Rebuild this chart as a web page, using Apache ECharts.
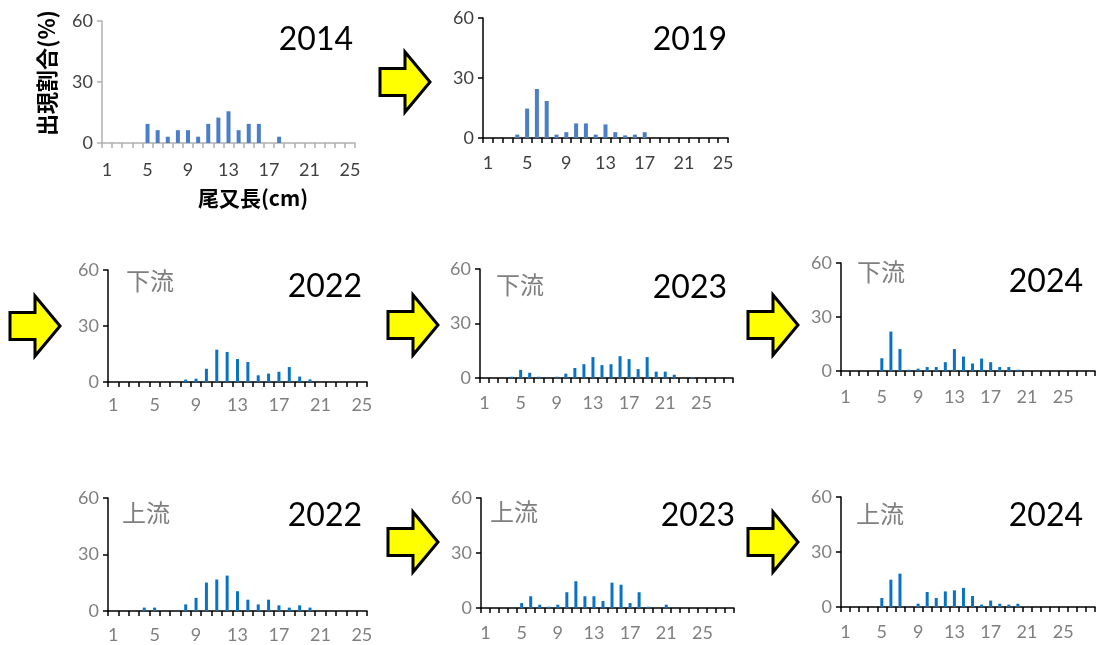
<!DOCTYPE html>
<html>
<head>
<meta charset="utf-8">
<script src="https://cdn.jsdelivr.net/npm/echarts@6/dist/echarts.min.js"></script>
<style>
  html, body { margin: 0; padding: 0; background: #ffffff; }
  #chart { width: 1101px; height: 645px; }
</style>
</head>
<body>
<div id="chart"></div>
<script>
// Fork-length classes (cm)
const lengths25 = Array.from({ length: 25 }, (_, i) => String(i + 1));
const lengths28 = Array.from({ length: 28 }, (_, i) => String(i + 1));

// Share of fish (%) in each length class, one array per survey
const y2014 = [0,0,0,0,9.4,6.3,3.1,6.3,6.3,3.1,9.4,12.5,15.6,6.3,9.4,9.4,0,3.1,0,0,0,0,0,0,0];
const y2019 = [0,0,0,1.7,14.7,24.5,18.5,1.7,2.9,7.3,7.3,1.7,6.8,2.9,1.3,1.7,2.9,0,0,0,0,0,0,0,0];
const down2022 = [0,0,0,0,0,0,0,1.3,1.8,7.1,17.3,16.1,12.3,10.7,3.6,4.5,5.5,8.0,2.9,1.4,0,0,0,0,0];
const down2023 = [0,0,0,0.7,4.5,2.9,0.7,0,0.7,2.4,5.5,7.6,11.5,7.1,7.6,12.0,10.4,4.9,11.5,3.5,3.5,1.8,0,0.5,0,0,0,0];
const down2024 = [0,0,0,0,7.1,21.9,12.2,0.7,1.3,2.2,2.2,4.9,12.2,8.0,4.2,6.9,4.9,2.2,2.2,0.7,0,0,0,0,0,0,0,0];
const up2022 = [0,0,0,1.8,1.8,0,0,3.5,7.0,15.1,16.7,18.8,10.5,6.0,3.5,6.0,3.0,1.8,3.0,1.8,0,0,0,0,0];
const up2023 = [0,0,0,0,2.7,6.4,1.8,0.7,1.8,8.6,14.6,6.4,6.4,3.8,13.8,12.7,2.7,8.6,0.7,0,1.8,0,0,0,0,0,0,0];
const up2024 = [0,0,0,0,4.9,14.9,18.2,0,1.8,8.2,4.9,8.5,9.1,10.4,6.0,1.3,3.5,1.8,1.3,1.8,0,0,0,0,0,0,0,0];

const yTicks = { min: 0, max: 60, interval: 30 };
const yAxisName = '出現割合(%)';
const xAxisName = '尾又長(cm)';
const downLabel = '下流';
const upLabel = '上流';

const LATIN = 'Lato, "Liberation Sans", sans-serif';
const CJK = '"Noto Sans CJK JP", sans-serif';

// Panel layout: grid box, categories, values, look
const panels = [
  { left: 102, top: 21,  width: 253, height: 122, cats: lengths25, data: y2014,    year: '2014', color: '#4a7ec8', barW: 4, axisCol: '#b0b0b0', labCol: '#404040', labGap: 18, region: null },
  { left: 483, top: 18,  width: 245, height: 120, cats: lengths25, data: y2019,    year: '2019', color: '#4a7ec8', barW: 4, axisCol: '#000000', labCol: '#404040', labGap: 16, region: null },
  { left: 108, top: 270, width: 259, height: 112, cats: lengths25, data: down2022, year: '2022', color: '#0a72c4', barW: 3, axisCol: '#000000', labCol: '#7f7f7f', labGap: 14, region: downLabel },
  { left: 480, top: 269, width: 253, height: 109, cats: lengths28, data: down2023, year: '2023', color: '#0a72c4', barW: 3, axisCol: '#000000', labCol: '#7f7f7f', labGap: 16, region: downLabel },
  { left: 841, top: 263, width: 254, height: 108, cats: lengths28, data: down2024, year: '2024', color: '#0a72c4', barW: 3, axisCol: '#000000', labCol: '#7f7f7f', labGap: 17, region: downLabel },
  { left: 108, top: 498, width: 259, height: 113, cats: lengths25, data: up2022,   year: '2022', color: '#0a72c4', barW: 3, axisCol: '#000000', labCol: '#7f7f7f', labGap: 15, region: upLabel },
  { left: 481, top: 498, width: 253, height: 110, cats: lengths28, data: up2023,   year: '2023', color: '#0a72c4', barW: 3, axisCol: '#000000', labCol: '#7f7f7f', labGap: 16, region: upLabel },
  { left: 841, top: 497, width: 254, height: 110, cats: lengths28, data: up2024,   year: '2024', color: '#0a72c4', barW: 3, axisCol: '#000000', labCol: '#7f7f7f', labGap: 16, region: upLabel }
];

// Year text (right edge, vertical centre) and region text (left edge, vertical centre)
const yearPos = [[353, 40], [727, 40], [362, 287], [727, 288], [1083, 282], [362, 516], [735, 516], [1083, 516]];
const regionPos = [null, null, [126, 281], [496, 285], [857, 272], [122, 513], [490, 512], [856, 514]];

// Yellow arrows between surveys: left x, vertical centre
const arrows = [[380, 82], [10, 326], [388, 325], [748, 325], [388, 542], [748, 542]];

function arrowShape(x, cy) {
  const w = 50, h = 60, shaftH = 27, shaftW = 25;
  return [
    [x, cy - shaftH / 2], [x + shaftW, cy - shaftH / 2], [x + shaftW, cy - h / 2],
    [x + w, cy], [x + shaftW, cy + h / 2], [x + shaftW, cy + shaftH / 2], [x, cy + shaftH / 2]
  ];
}

const chart = echarts.init(document.getElementById('chart'), null, { renderer: 'canvas' });

const grids = [], xAxes = [], yAxes = [], series = [], graphics = [];

panels.forEach((p, i) => {
  grids.push({ left: p.left, top: p.top, width: p.width, height: p.height, containLabel: false });
  xAxes.push({
    type: 'category', gridIndex: i, data: p.cats, boundaryGap: true,
    axisLine: { show: true, lineStyle: { color: p.axisCol, width: 1.5 } },
    axisTick: { show: true, interval: 0, alignWithLabel: false, length: 5, lineStyle: { color: p.axisCol, width: 1.5 } },
    axisLabel: { interval: 3, margin: p.labGap, color: p.labCol, fontSize: 18, fontFamily: LATIN },
    splitLine: { show: false }
  });
  yAxes.push({
    type: 'value', gridIndex: i, min: yTicks.min, max: yTicks.max, interval: yTicks.interval,
    axisLine: { show: true, lineStyle: { color: p.axisCol, width: 1.5 } },
    axisTick: { show: true, length: 5, lineStyle: { color: p.axisCol, width: 1.5 } },
    axisLabel: { margin: 9, color: p.labCol, fontSize: 18, fontFamily: LATIN },
    splitLine: { show: false }
  });
  series.push({
    type: 'bar', xAxisIndex: i, yAxisIndex: i, data: p.data,
    barWidth: p.barW, itemStyle: { color: p.color }, silent: true, animation: false
  });

  const yp = yearPos[i];
  graphics.push({
    type: 'text', x: yp[0], y: yp[1],
    style: { text: p.year, fontSize: 32, fontFamily: LATIN, fill: '#000000', align: 'right', verticalAlign: 'middle' }
  });
  if (p.region) {
    const rp = regionPos[i];
    graphics.push({
      type: 'text', x: rp[0], y: rp[1],
      style: { text: p.region, fontSize: 24, fontFamily: CJK, fill: '#7f7f7f', align: 'left', verticalAlign: 'middle' }
    });
  }
});

// Axis titles of the first panel
graphics.push({
  type: 'text', x: 47, y: 73, rotation: Math.PI / 2,
  style: { text: yAxisName, fontSize: 22, fontWeight: 'bold', fontFamily: CJK, fill: '#000000', align: 'center', verticalAlign: 'middle' }
});
graphics.push({
  type: 'text', x: 253, y: 198,
  style: { text: xAxisName, fontSize: 21, fontWeight: 'bold', fontFamily: CJK, fill: '#000000', align: 'center', verticalAlign: 'middle' }
});

arrows.forEach(a => {
  graphics.push({
    type: 'polygon',
    shape: { points: arrowShape(a[0], a[1]) },
    style: { fill: '#ffff00', stroke: '#000000', lineWidth: 3, lineJoin: 'miter' }
  });
});

chart.setOption({
  animation: false,
  backgroundColor: '#ffffff',
  grid: grids,
  xAxis: xAxes,
  yAxis: yAxes,
  series: series,
  graphic: graphics
});
</script>
</body>
</html>
